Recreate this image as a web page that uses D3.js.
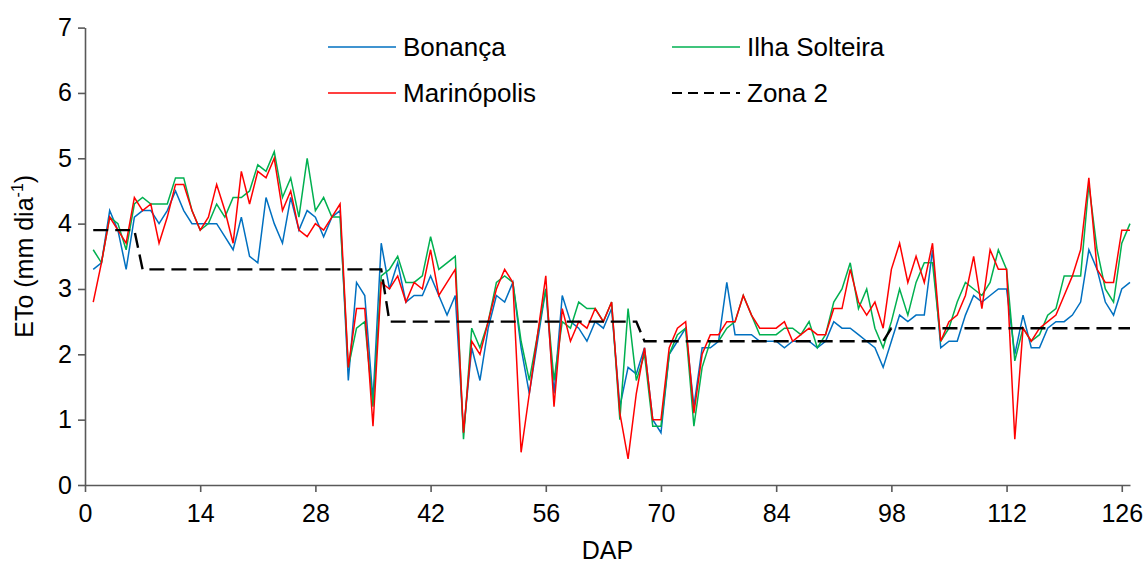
<!DOCTYPE html>
<html>
<head>
<meta charset="utf-8">
<script src="https://cdn.jsdelivr.net/npm/d3@7"></script>
<style>
  html, body { margin: 0; padding: 0; background: #fff; }
  svg { display: block; }
  text { font-family: "Liberation Sans", Arial, sans-serif; fill: #000; }
</style>
</head>
<body>
<svg id="chart" width="1147" height="565"></svg>
<script>
// ---------- data ----------
const days = d3.range(1, 128);
const xTicks = [0, 14, 28, 42, 56, 70, 84, 98, 112, 126];
const yTicks = [0, 1, 2, 3, 4, 5, 6, 7];
const seriesNames = ["Bonança", "Ilha Solteira", "Marinópolis", "Zona 2"];

const bonanca = [3.3,3.4,4.2,3.9,3.3,4.1,4.2,4.2,4.0,4.2,4.5,4.2,4.0,4.0,4.0,4.0,3.8,3.6,4.1,3.5,
  3.4,4.4,4.0,3.7,4.4,3.9,4.2,4.1,3.8,4.1,4.2,1.6,3.1,2.9,1.3,3.7,3.0,3.4,2.8,2.9,
  2.9,3.2,2.9,2.6,2.9,0.8,2.1,1.6,2.4,2.9,2.8,3.1,2.1,1.4,2.2,3.0,1.4,2.9,2.5,2.4,
  2.2,2.5,2.4,2.7,1.2,1.8,1.7,2.1,1.0,0.8,2.0,2.2,2.4,1.2,2.1,2.1,2.2,3.1,2.3,2.3,
  2.3,2.2,2.2,2.2,2.1,2.2,2.2,2.2,2.1,2.2,2.5,2.4,2.4,2.3,2.2,2.1,1.8,2.2,2.6,2.5,
  2.6,2.6,3.6,2.1,2.2,2.2,2.6,2.9,2.8,2.9,3.0,3.0,2.0,2.6,2.1,2.1,2.4,2.5,2.5,2.6,
  2.8,3.6,3.3,2.8,2.6,3.0,3.1];

const ilhaSolteira = [3.6,3.4,4.1,4.0,3.6,4.3,4.4,4.3,4.3,4.3,4.7,4.7,4.2,3.9,4.0,4.3,4.1,4.4,4.4,4.5,
  4.9,4.8,5.1,4.4,4.7,4.1,5.0,4.2,4.4,4.1,4.1,1.8,2.4,2.5,1.2,3.2,3.3,3.5,3.1,3.1,
  3.2,3.8,3.3,3.4,3.5,0.7,2.4,2.1,2.5,3.1,3.2,3.1,2.2,1.6,2.3,3.0,1.6,2.5,2.4,2.8,
  2.7,2.7,2.5,2.8,1.0,2.7,1.6,2.0,0.9,0.9,2.0,2.3,2.4,0.9,1.8,2.2,2.2,2.4,2.5,2.9,
  2.6,2.3,2.3,2.3,2.4,2.4,2.3,2.5,2.1,2.3,2.8,3.0,3.4,2.7,3.0,2.4,2.1,2.5,3.0,2.6,
  3.1,3.4,3.4,2.2,2.4,2.8,3.1,3.0,2.9,3.1,3.6,3.3,1.9,2.4,2.2,2.3,2.6,2.7,3.2,3.2,
  3.2,4.6,3.6,3.0,2.8,3.7,4.0];

const marinopolis = [2.8,3.4,4.1,3.9,3.7,4.4,4.2,4.3,3.7,4.1,4.6,4.6,4.2,3.9,4.1,4.6,4.2,3.7,4.8,4.3,
  4.8,4.7,5.0,4.2,4.5,3.9,3.8,4.0,3.9,4.1,4.3,1.8,2.7,2.7,0.9,3.1,3.0,3.2,2.8,3.1,
  3.0,3.6,2.9,3.1,3.3,0.8,2.2,2.0,2.5,3.0,3.3,3.1,0.5,1.4,2.3,3.2,1.2,2.7,2.2,2.5,
  2.4,2.7,2.5,2.8,1.1,0.4,1.4,2.1,1.0,1.0,2.1,2.4,2.5,1.1,2.0,2.3,2.3,2.5,2.5,2.9,
  2.6,2.4,2.4,2.4,2.5,2.2,2.3,2.4,2.3,2.3,2.7,2.7,3.3,2.8,2.6,2.8,2.4,3.3,3.7,3.1,
  3.5,3.1,3.7,2.2,2.5,2.6,2.9,3.5,2.7,3.6,3.3,3.3,0.7,2.4,2.2,2.4,2.5,2.6,2.9,3.2,
  3.6,4.7,3.3,3.1,3.1,3.9,3.9];

// Zona 2 step reference: vertices (day, value)
const zona2Days   = [1,   6,   7,   36,  37,  67,  68,  97,  98,  127];
const zona2Values = [3.9, 3.9, 3.3, 3.3, 2.5, 2.5, 2.2, 2.2, 2.4, 2.4];

// ---------- layout ----------
const svg = d3.select("#chart");
const x = d3.scaleLinear().domain([0, 127]).range([85, 1130]);
const y = d3.scaleLinear().domain([0, 7]).range([485, 27.6]);
const axisColor = "#595959";
const fs = 25;

// axes
const gx = svg.append("g").attr("transform", `translate(0,${y(0)})`)
  .call(d3.axisBottom(x).tickValues(xTicks).tickFormat(d3.format("d"))
    .tickSize(7).tickPadding(12).tickSizeOuter(0));
const gy = svg.append("g").attr("transform", `translate(${x(0)},0)`)
  .call(d3.axisLeft(y).tickValues(yTicks).tickFormat(d3.format("d"))
    .tickSize(7).tickPadding(6).tickSizeOuter(0));
[gx, gy].forEach(g => {
  g.select(".domain").attr("stroke", axisColor).attr("stroke-width", 1.6);
  g.selectAll(".tick line").attr("stroke", axisColor).attr("stroke-width", 1.6);
  g.selectAll(".tick text").attr("font-size", fs).attr("font-family", "Liberation Sans, Arial, sans-serif").attr("fill", "#000");
});

// axis titles
svg.append("text").attr("x", (x(0) + x(127)) / 2).attr("y", 559)
  .attr("text-anchor", "middle").attr("font-size", fs).text("DAP");
const yt = svg.append("text")
  .attr("transform", `translate(33,${(y(0) + y(7)) / 2}) rotate(-90)`)
  .attr("text-anchor", "middle").attr("font-size", fs);
yt.append("tspan").text("ETo (mm dia");
yt.append("tspan").attr("font-size", 16).attr("dy", -10).text("-1");
yt.append("tspan").attr("dy", 10).text(")");

// series lines
const colors = ["#0070C0", "#00B050", "#FF0000"];
const series = [bonanca, ilhaSolteira, marinopolis];
const line = d3.line().x((d, i) => x(days[i])).y(d => y(d));
series.forEach((s, k) => {
  svg.append("path").datum(s).attr("d", line)
    .attr("fill", "none").attr("stroke", colors[k]).attr("stroke-width", 1.5)
    .attr("stroke-linejoin", "miter");
});
const zline = d3.line().x((d, i) => x(zona2Days[i])).y(d => y(d));
svg.append("path").datum(zona2Values).attr("d", zline)
  .attr("fill", "none").attr("stroke", "#000").attr("stroke-width", 2.4)
  .attr("stroke-dasharray", "15,7");

// legend
const legendItems = [
  { name: seriesNames[0], color: colors[0], dash: null, lx: 328, ly: 47 },
  { name: seriesNames[1], color: colors[1], dash: null, lx: 672, ly: 47 },
  { name: seriesNames[2], color: colors[2], dash: null, lx: 328, ly: 93 },
  { name: seriesNames[3], color: "#000", dash: "10,6", lx: 672, ly: 93 }
];
legendItems.forEach(it => {
  svg.append("line").attr("x1", it.lx).attr("x2", it.lx + 68)
    .attr("y1", it.ly).attr("y2", it.ly)
    .attr("stroke", it.color).attr("stroke-width", it.dash ? 2 : 1.5)
    .attr("stroke-dasharray", it.dash);
  svg.append("text").attr("x", it.lx + 75).attr("y", it.ly + 9)
    .attr("font-size", 26).text(it.name);
});
</script>
</body>
</html>
